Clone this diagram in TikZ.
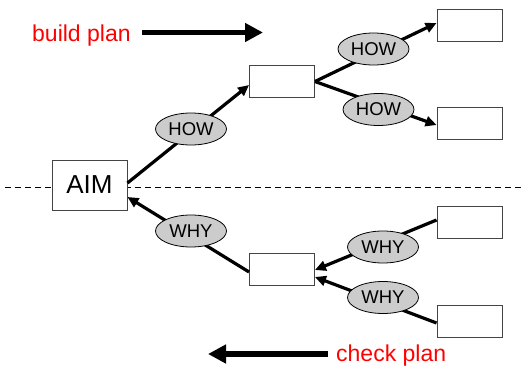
\documentclass[tikz,border=0pt]{standalone}
\usepackage{fontspec}
\setmainfont{Liberation Sans}
\usetikzlibrary{shapes.geometric,arrows.meta}
\definecolor{boxline}{HTML}{444444}
\definecolor{ovalfill}{HTML}{CCCCCC}
\tikzset{
  stepbox/.style={draw=boxline, line width=0.9pt, fill=white, minimum width=65pt, minimum height=32pt, inner sep=0pt},
  aimbox/.style={stepbox, minimum width=75pt, minimum height=50pt, font=\fontsize{26}{30}\selectfont},
  oval/.style={ellipse, draw=black, line width=0.8pt, fill=ovalfill, minimum width=71pt, minimum height=32pt, inner sep=0pt, font=\fontsize{18.5}{22}\selectfont},
  link/.style={line width=3.2pt, -{Triangle[length=11pt,width=10pt]}},
  bigarrow/.style={line width=5.5pt, -{Triangle[length=18pt,width=18pt]}},
  planlabel/.style={text=red, inner sep=0pt, font=\fontsize{23}{27}\selectfont},
  divider/.style={dashed, dash pattern=on 6pt off 4pt, line width=0.9pt}
}
\begin{document}
\begin{tikzpicture}[x=1pt, y=-1pt]
  \useasboundingbox (0,0) rectangle (524,367);

  % dividing line between building and checking
  \coordinate (dl) at (5,187.5);
  \coordinate (dr) at (524,187.5);
  \draw[divider] (dl) -- (dr);

  % boxes
  \node[aimbox] (aim) at (89.5,185) {AIM};
  \node[stepbox] (up) at (282,81.5) {};
  \node[stepbox] (uta) at (469.5,25) {};
  \node[stepbox] (utb) at (469.5,123) {};
  \node[stepbox] (lo) at (282,269) {};
  \node[stepbox] (lta) at (469.5,222.5) {};
  \node[stepbox] (ltb) at (469.5,321) {};

  % HOW connectors
  \draw[link] ([yshift=2pt]aim.east) -- ([yshift=-3.5pt]up.west);
  \draw[link] (up.east) -- ([yshift=2pt]uta.west);
  \draw[link] (up.east) -- ([yshift=-2pt]utb.west);

  % WHY connectors
  \draw[link] ([yshift=-3pt]lo.west) -- ([yshift=-12pt]aim.east);
  \draw[link] ([yshift=2.5pt]lta.west) -- ([yshift=-1pt]lo.east);
  \draw[link] ([yshift=-2pt]ltb.west) -- ([yshift=-8pt]lo.east);

  % labels on the connectors
  \node[oval] (how1) at (191,129) {HOW};
  \node[oval] (how2) at (373.5,49) {HOW};
  \node[oval] (how3) at (378.5,109.5) {HOW};
  \node[oval] (why1) at (191,231) {WHY};
  \node[oval] (why2) at (383,247) {WHY};
  \node[oval] (why3) at (383,297.5) {WHY};

  % direction of planning
  \node[planlabel, anchor=base west] (build) at (32,41) {build plan};
  \coordinate (bs) at (142,32.5);
  \coordinate (be) at (263,32.5);
  \draw[bigarrow] (bs) -- (be);

  \node[planlabel, anchor=base west] (check) at (336,361.5) {check plan};
  \coordinate (cs) at (328,354);
  \coordinate (ce) at (208,354);
  \draw[bigarrow] (cs) -- (ce);
\end{tikzpicture}
\end{document}
